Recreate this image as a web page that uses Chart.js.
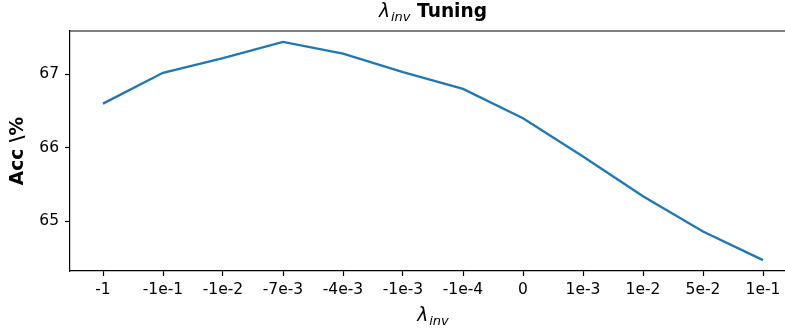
<!DOCTYPE html>
<html>
<head>
<meta charset="utf-8">
<script src="https://cdn.jsdelivr.net/npm/chart.js@4"></script>
<style>
  html, body { margin: 0; padding: 0; background: #fff; overflow: hidden; }
</style>
</head>
<body>
<canvas id="myChart" width="800" height="329"></canvas>
<script>
// lambda_inv settings along x
const labels = ["-1", "-1e-1", "-1e-2", "-7e-3", "-4e-3", "-1e-3", "-1e-4", "0", "1e-3", "1e-2", "5e-2", "1e-1"];
// accuracy (%)
const acc = [66.6, 67.02, 67.22, 67.44, 67.28, 67.03, 66.8, 66.4, 65.88, 65.34, 64.86, 64.47];
const yTicks = [65, 66, 67];

const FONT = "'DejaVu Sans', sans-serif";
const lo = Math.min(...acc);
const hi = Math.max(...acc);
const marg = (hi - lo) * 0.05;

// draws "λ" + subscript "inv" starting at x, returns end x
function lambdaInv(ctx, x, y, size, measureOnly) {
  ctx.font = "italic " + size + "px " + FONT;
  const w1 = ctx.measureText("λ").width;
  ctx.font = "italic " + (size * 0.7) + "px " + FONT;
  const w2 = ctx.measureText("inv").width;
  if (!measureOnly) {
    ctx.font = "italic " + size + "px " + FONT;
    ctx.fillText("λ", x, y);
    ctx.font = "italic " + (size * 0.7) + "px " + FONT;
    ctx.fillText("inv", x + w1 + 1, y + size * 0.22);
  }
  return w1 + 1 + w2;
}

const decor = {
  id: "decor",
  afterDraw(chart) {
    const ctx = chart.ctx;
    const a = chart.chartArea;
    ctx.save();
    // top + right spines
    ctx.strokeStyle = "#000";
    ctx.lineWidth = 1.2;
    ctx.beginPath();
    ctx.moveTo(a.left, a.top);
    ctx.lineTo(a.right, a.top);
    ctx.lineTo(a.right, a.bottom);
    ctx.stroke();

    ctx.fillStyle = "#000";
    ctx.textBaseline = "alphabetic";
    ctx.textAlign = "left";
    const cx = (a.left + a.right) / 2;

    // title
    const size = 18.6;
    const wl = lambdaInv(ctx, 0, 0, size, true);
    ctx.font = "bold " + size + "px " + FONT;
    const sp = ctx.measureText(" ").width;
    const wt = ctx.measureText("Tuning").width;
    let x0 = cx - (wl + sp + wt) / 2;
    lambdaInv(ctx, x0, 17, size, false);
    ctx.font = "bold " + size + "px " + FONT;
    ctx.fillText("Tuning", x0 + wl + sp, 17);

    // x label
    const wx = lambdaInv(ctx, 0, 0, size, true);
    lambdaInv(ctx, cx - wx / 2, 321, size, false);

    // y label
    ctx.translate(18, (a.top + a.bottom) / 2);
    ctx.rotate(-Math.PI / 2);
    ctx.textAlign = "center";
    ctx.textBaseline = "middle";
    ctx.font = "bold " + size + "px " + FONT;
    ctx.fillText("Acc \\%", 0, 0);
    ctx.restore();
  }
};

const chart = new Chart(document.getElementById("myChart"), {
  type: "line",
  data: {
    datasets: [{
      data: acc.map((v, i) => ({ x: i, y: v })),
      borderColor: "#1f77b4",
      borderWidth: 2.3,
      pointRadius: 0,
      tension: 0,
      fill: false,
    }],
  },
  options: {
    responsive: false,
    animation: false,
    layout: { padding: { top: 31, right: 4, left: 0, bottom: 0 } },
    plugins: {
      legend: { display: false },
      tooltip: { enabled: false },
    },
    scales: {
      x: {
        type: "linear",
        min: -0.55,
        max: labels.length - 1 + 0.55,
        afterBuildTicks: (s) => { s.ticks = labels.map((_, i) => ({ value: i })); },
        afterFit: (s) => { s.height = 58; },
        grid: { drawOnChartArea: false, tickLength: 5, tickColor: "#000", tickWidth: 1.2 },
        border: { display: true, color: "#000", width: 1.2 },
        ticks: {
          autoSkip: false,
          maxRotation: 0,
          padding: 5,
          color: "#000",
          font: { family: FONT, size: 15.5 },
          callback: (v) => labels[Math.round(v)],
        },
      },
      y: {
        min: lo - marg,
        max: hi + marg,
        afterBuildTicks: (s) => { s.ticks = yTicks.map((v) => ({ value: v })); },
        afterFit: (s) => { s.width = 70; },
        grid: { drawOnChartArea: false, tickLength: 5, tickColor: "#000", tickWidth: 1.2 },
        border: { display: true, color: "#000", width: 1.2 },
        ticks: {
          padding: 6,
          color: "#000",
          font: { family: FONT, size: 15.5 },
        },
      },
    },
  },
  plugins: [decor],
});
</script>
</body>
</html>
